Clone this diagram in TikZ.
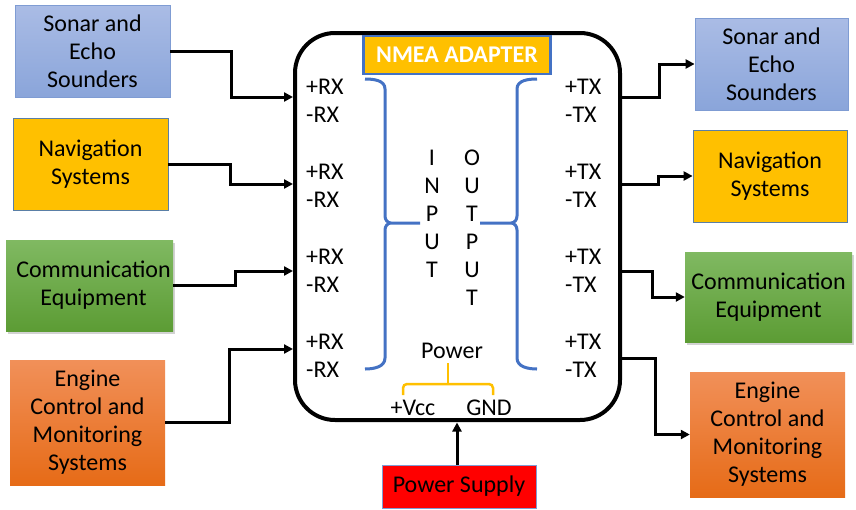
\documentclass[tikz,border=0pt]{standalone}
\usepackage{fontspec}
\setmainfont{Carlito}
\usetikzlibrary{arrows.meta,shadows}
\definecolor{sonarTop}{HTML}{AABCE5}
\definecolor{sonarBot}{HTML}{8AA5DA}
\definecolor{navFill}{HTML}{FFC000}
\definecolor{commTop}{HTML}{80B962}
\definecolor{commBot}{HTML}{5C9C34}
\definecolor{engTop}{HTML}{F19059}
\definecolor{engBot}{HTML}{E66B17}
\definecolor{bBlue}{HTML}{4472C4}
\definecolor{boxEdge}{HTML}{7F9CD3}
\definecolor{navEdge}{HTML}{5A7FA6}
\begin{document}
\begin{tikzpicture}[x=1pt,y=-1pt,
  txt/.style={font=\fontsize{24}{28}\selectfont, inner sep=0pt},
  sonarbox/.style={txt, align=center, draw=boxEdge, line width=0.8pt, top color=sonarTop, bottom color=sonarBot},
  navbox/.style={txt, align=center, draw=navEdge, line width=0.8pt, fill=navFill},
  commbox/.style={txt, align=center, top color=commTop, bottom color=commBot, drop shadow={opacity=0.35, shadow xshift=2pt, shadow yshift=-3pt}},
  engbox/.style={txt, align=center, top color=engTop, bottom color=engBot},
  wire/.style={line width=3pt, -{Triangle[length=9pt,width=9pt]}},
  bracebl/.style={draw=bBlue, line width=3pt},
  bracepw/.style={draw=navFill, line width=2.5pt, rounded corners=4pt},
  lbl/.style={txt, anchor=west}]
\useasboundingbox (0,0) rectangle (856,509);
\fill[white] (0,0) rectangle (856,509);

% main adapter
\node[draw, line width=4pt, rounded corners=40pt, minimum width=325pt, minimum height=387pt, inner sep=0pt] (adapter) at (457.5,226.5) {};
\node[draw=bBlue, line width=2.5pt, fill=navFill, minimum width=187pt, minimum height=38pt, inner sep=0pt, text=white, font=\bfseries\fontsize{24}{28}\selectfont] (title) at (457,55) {NMEA ADAPTER};

% left boxes
\node[sonarbox, minimum width=155pt, minimum height=92pt] (sL) at (92.5,51) {Sonar and\\Echo\\Sounders};
\node[navbox, minimum width=155pt, minimum height=92pt] (nL) at (90.5,164) {Navigation\\Systems};
\node[commbox, minimum width=167pt, minimum height=91pt] (cL) at (89.5,285.5) {\hspace*{8pt}Communication\\\hspace*{8pt}Equipment};
\node[engbox, minimum width=155pt, minimum height=125pt] (eL) at (87.5,422.5) {Engine\\Control and\\Monitoring\\Systems};

% right boxes
\node[sonarbox, minimum width=153pt, minimum height=92pt] (sR) at (771.5,64) {Sonar and\\Echo\\Sounders};
\node[navbox, minimum width=154pt, minimum height=92pt] (nR) at (770,176) {Navigation\\Systems};
\node[commbox, minimum width=167pt, minimum height=90pt] (cR) at (768.5,297) {Communication\\Equipment};
\node[engbox, minimum width=155pt, minimum height=125pt] (eR) at (767.5,434.5) {Engine\\Control and\\Monitoring\\Systems};

% power supply
\node[txt, draw=boxEdge, line width=0.8pt, fill=red, minimum width=154pt, minimum height=43pt] (ps) at (459,486.5) {Power Supply};

% port coordinates
\coordinate (in1) at (293,97);
\coordinate (in2) at (293,184);
\coordinate (in3) at (293,271);
\coordinate (in4) at (293,349);
\coordinate (out1) at (620,97);
\coordinate (out2) at (620,184);
\coordinate (out3) at (620,271);
\coordinate (out4) at (620,358);
\coordinate (pin) at (457,422.5);

% RX / TX labels
\foreach \y [count=\i] in {87,172,257,342}{
  \node[lbl] (rxp\i) at (306,\y) {+RX};
  \node[lbl] (rxm\i) at (306,\y+28) {-RX};
  \node[lbl] (txp\i) at (565,\y) {+TX};
  \node[lbl] (txm\i) at (565,\y+28) {-TX};
}

% INPUT / OUTPUT
\node[txt, align=center] (inp) at (432,214) {I\\N\\P\\U\\T};
\node[txt, align=center] (outp) at (472,228) {O\\U\\T\\P\\U\\T};

% blue braces
\draw[bracebl] (365,79) to[out=0,in=90] (385,89) -- (385,216) to[out=-90,in=180] (391,223) -- (420,223)
               (420,223) -- (391,223) to[out=180,in=90] (385,230) -- (385,358) to[out=-90,in=0] (365,369);
\draw[bracebl] (537,79) to[out=180,in=90] (517,89) -- (517,216) to[out=-90,in=0] (511,223) -- (480,223)
               (480,223) -- (511,223) to[out=0,in=90] (517,230) -- (517,358) to[out=-90,in=180] (537,369);

% power
\node[txt] (pow) at (452,351) {Power};
\node[txt] (vcc) at (413,408) {+Vcc};
\node[txt] (gnd) at (489,408) {GND};
\draw[bracepw] (403,395) -- (403,384) -- (493,384) -- (493,395);
\draw[draw=navFill, line width=2.5pt] (448,363) -- (448,384);

% connectors left
\draw[wire] (sL.east) -- ++(61,0) |- (in1);
\draw[wire] (nL.east) -- ++(62,0) |- (in2);
\draw[wire] (cL.east) -- ++(62,0) |- (in3);
\draw[wire] (eL.east) -- ++(64,0) |- (in4);

% connectors right
\draw[wire] (out1) -- (659,97) |- (sR.west);
\draw[wire] (out2) -- (658,184) |- (nR.west);
\draw[wire] (out3) -- (652,271) |- (cR.west);
\draw[wire] (out4) -- (655,358) |- (eR.west);

% power supply arrow
\draw[wire] (ps.north -| pin) -- (pin);
\end{tikzpicture}
\end{document}
